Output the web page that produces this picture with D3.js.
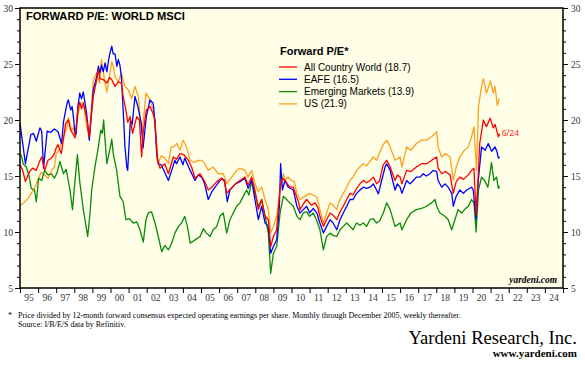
<!DOCTYPE html>
<html>
<head>
<meta charset="utf-8">
<script src="https://cdn.jsdelivr.net/npm/d3@7"></script>
<style>
body { margin: 0; background: #fff; }
svg { display: block; }
.axis text { font-family: "Liberation Serif", "Times New Roman", serif; font-size: 9.5px; fill: #333; }
.axis path, .axis line { stroke: #000; }
</style>
</head>
<body>
<div class="chart1"></div>
<script>
// year ticks + labels
var years = d3.range(1995, 2025);
var yTicks = [5, 10, 15, 20, 25, 30];

// [decimal year, forward P/E]
var acwi = [[1995.0,16.0],[1995.15,15.5],[1995.3,14.5],[1995.53,15.4],[1995.7,15.7],[1995.9,15.5],[1996.08,16.3],[1996.2,16.7],[1996.36,15.5],[1996.55,16.4],[1996.73,16.6],[1996.9,17.0],[1997.0,17.5],[1997.1,17.8],[1997.28,17.0],[1997.43,18.6],[1997.52,19.7],[1997.67,20.0],[1997.8,19.1],[1997.95,18.7],[1998.04,18.4],[1998.2,20.9],[1998.3,21.6],[1998.4,21.0],[1998.5,21.5],[1998.68,20.2],[1998.83,18.5],[1998.95,20.5],[1999.05,22.1],[1999.24,23.6],[1999.33,24.5],[1999.42,23.7],[1999.6,23.6],[1999.8,23.3],[1999.95,23.8],[2000.07,23.6],[2000.25,23.0],[2000.43,23.4],[2000.6,23.3],[2000.7,22.1],[2000.85,20.9],[2000.95,19.8],[2001.08,20.3],[2001.22,18.8],[2001.45,20.3],[2001.6,20.0],[2001.72,16.7],[2001.8,18.8],[2001.98,20.9],[2002.18,21.2],[2002.32,20.7],[2002.46,20.0],[2002.59,16.4],[2002.73,15.7],[2003.0,16.1],[2003.2,15.2],[2003.47,16.7],[2003.65,16.5],[2003.84,17.0],[2004.05,16.9],[2004.3,16.4],[2004.48,15.8],[2004.67,14.8],[2004.95,15.2],[2005.2,14.5],[2005.4,13.75],[2005.6,14.0],[2005.87,14.5],[2006.14,14.8],[2006.3,14.5],[2006.42,13.45],[2006.6,13.8],[2006.9,14.3],[2007.15,14.6],[2007.43,14.9],[2007.6,14.2],[2007.8,14.9],[2007.98,13.75],[2008.17,12.0],[2008.35,12.9],[2008.54,11.4],[2008.72,11.1],[2008.85,8.7],[2009.0,9.6],[2009.18,10.2],[2009.37,14.0],[2009.5,14.8],[2009.64,14.6],[2009.9,14.0],[2010.1,14.0],[2010.4,12.6],[2010.47,12.0],[2010.65,12.5],[2010.84,12.9],[2011.1,12.4],[2011.3,12.6],[2011.45,12.2],[2011.57,11.4],[2011.76,10.5],[2011.94,11.1],[2012.13,11.7],[2012.3,11.5],[2012.5,11.1],[2012.68,11.8],[2012.86,12.3],[2013.05,12.9],[2013.23,13.45],[2013.4,13.3],[2013.6,13.9],[2013.78,14.3],[2013.97,14.6],[2014.15,14.4],[2014.34,14.6],[2014.52,14.9],[2014.7,14.3],[2014.85,14.5],[2015.07,16.0],[2015.26,16.4],[2015.45,15.8],[2015.72,14.6],[2015.85,15.1],[2016.0,14.9],[2016.1,14.3],[2016.36,15.5],[2016.6,15.4],[2016.9,15.8],[2017.18,16.1],[2017.46,16.1],[2017.74,16.4],[2018.02,16.7],[2018.1,15.7],[2018.3,15.2],[2018.5,15.4],[2018.76,15.1],[2018.94,13.45],[2019.1,14.5],[2019.3,14.9],[2019.5,14.7],[2019.77,15.1],[2019.95,15.5],[2020.08,15.7],[2020.2,11.5],[2020.3,14.5],[2020.4,17.9],[2020.6,20.0],[2020.77,19.4],[2020.97,20.15],[2021.15,19.3],[2021.25,19.6],[2021.43,18.5],[2021.5,18.8]];

var eafe = [[1995.0,19.7],[1995.3,16.1],[1995.6,18.7],[1995.75,18.8],[1995.9,18.1],[1996.1,19.3],[1996.2,19.0],[1996.3,15.7],[1996.5,19.0],[1996.7,18.9],[1996.9,19.2],[1997.1,18.95],[1997.3,17.9],[1997.4,19.8],[1997.6,21.5],[1997.67,21.8],[1997.8,20.9],[1997.88,21.2],[1997.95,20.3],[1998.04,18.8],[1998.1,18.7],[1998.2,21.2],[1998.3,22.4],[1998.4,21.9],[1998.5,22.5],[1998.68,20.6],[1998.83,18.2],[1998.96,20.9],[1999.05,22.7],[1999.24,23.9],[1999.33,24.8],[1999.42,24.2],[1999.5,24.9],[1999.6,24.3],[1999.7,25.1],[1999.8,24.3],[1999.88,25.2],[1999.97,26.0],[2000.07,26.6],[2000.15,25.9],[2000.25,25.9],[2000.35,24.8],[2000.43,25.4],[2000.52,24.9],[2000.6,23.9],[2000.7,20.9],[2000.8,17.6],[2000.9,15.8],[2000.95,15.5],[2001.1,20.0],[2001.2,19.6],[2001.35,22.1],[2001.5,21.3],[2001.7,19.7],[2001.8,17.5],[2001.98,20.3],[2002.18,21.8],[2002.36,21.5],[2002.45,20.0],[2002.55,17.0],[2002.64,16.1],[2002.8,16.0],[2003.2,14.6],[2003.4,15.6],[2003.56,16.4],[2003.65,16.1],[2003.84,16.7],[2004.0,16.0],[2004.1,16.6],[2004.4,15.5],[2004.67,14.6],[2004.85,15.1],[2005.04,14.9],[2005.2,14.3],[2005.4,12.9],[2005.6,13.6],[2005.87,14.2],[2006.14,14.8],[2006.3,14.6],[2006.45,12.7],[2006.6,13.75],[2006.9,14.3],[2007.15,14.5],[2007.43,14.8],[2007.6,13.9],[2007.8,14.6],[2007.98,12.9],[2008.17,11.1],[2008.35,12.3],[2008.54,10.8],[2008.72,10.5],[2008.85,8.1],[2009.0,8.7],[2009.18,9.3],[2009.33,12.3],[2009.4,16.1],[2009.5,13.75],[2009.64,14.6],[2009.82,14.0],[2010.1,13.75],[2010.3,12.3],[2010.47,11.7],[2010.65,12.0],[2010.84,12.3],[2011.0,11.7],[2011.2,12.1],[2011.4,11.7],[2011.57,10.8],[2011.76,9.9],[2011.94,10.5],[2012.13,11.1],[2012.3,10.8],[2012.5,10.2],[2012.68,11.1],[2012.86,11.7],[2013.05,12.3],[2013.23,12.9],[2013.4,12.9],[2013.6,13.45],[2013.78,13.75],[2013.97,14.0],[2014.15,13.9],[2014.34,14.0],[2014.52,14.3],[2014.7,13.75],[2014.8,13.4],[2014.98,14.6],[2015.17,15.8],[2015.26,16.1],[2015.45,15.5],[2015.72,13.75],[2015.85,14.3],[2016.0,14.0],[2016.1,13.45],[2016.36,14.6],[2016.55,14.3],[2016.73,14.6],[2016.9,14.9],[2017.1,14.9],[2017.28,15.2],[2017.45,15.0],[2017.65,15.2],[2017.83,15.5],[2018.02,15.4],[2018.1,14.6],[2018.3,14.0],[2018.48,14.3],[2018.66,14.0],[2018.85,13.45],[2018.94,12.3],[2019.1,13.2],[2019.3,13.75],[2019.5,13.45],[2019.68,13.75],[2019.95,14.0],[2020.04,13.75],[2020.2,11.1],[2020.32,14.6],[2020.5,17.6],[2020.7,17.3],[2020.87,17.9],[2021.06,17.2],[2021.24,17.6],[2021.35,17.2],[2021.43,16.6],[2021.5,16.7]];

var em = [[1995.0,17.0],[1995.1,16.7],[1995.17,16.1],[1995.35,15.8],[1995.5,15.0],[1995.62,13.9],[1995.8,13.75],[1995.9,12.7],[1996.03,14.8],[1996.2,14.6],[1996.36,15.5],[1996.55,15.1],[1996.73,15.2],[1996.9,14.8],[1997.05,15.3],[1997.2,16.3],[1997.4,15.2],[1997.55,15.6],[1997.76,13.75],[1997.9,12.0],[1998.0,13.9],[1998.17,16.9],[1998.3,14.5],[1998.5,12.0],[1998.74,9.6],[1998.87,11.7],[1998.96,13.75],[1999.14,15.8],[1999.33,17.6],[1999.46,19.1],[1999.55,18.8],[1999.62,20.0],[1999.7,18.2],[1999.8,16.1],[1999.97,17.4],[2000.07,18.3],[2000.15,17.0],[2000.34,15.5],[2000.52,13.2],[2000.7,12.7],[2000.85,11.1],[2001.04,11.2],[2001.26,10.8],[2001.45,10.9],[2001.63,10.2],[2001.81,9.1],[2001.96,11.1],[2002.09,11.7],[2002.27,11.8],[2002.46,10.8],[2002.64,9.6],[2002.83,8.25],[2003.0,8.8],[2003.2,8.4],[2003.38,9.0],[2003.56,9.9],[2003.75,10.5],[2003.93,10.8],[2004.1,11.4],[2004.25,10.5],[2004.4,9.0],[2004.67,9.3],[2004.95,9.6],[2005.13,10.3],[2005.3,9.9],[2005.5,9.6],[2005.67,10.2],[2005.87,10.5],[2006.05,11.4],[2006.23,11.7],[2006.42,9.9],[2006.6,11.1],[2006.78,11.7],[2006.97,12.3],[2007.15,12.6],[2007.34,13.2],[2007.52,13.75],[2007.65,13.3],[2007.8,14.6],[2007.98,13.45],[2008.17,12.3],[2008.35,12.9],[2008.54,11.4],[2008.72,9.9],[2008.85,6.3],[2009.0,8.1],[2009.18,8.7],[2009.37,11.7],[2009.55,13.2],[2009.73,12.9],[2009.9,12.6],[2010.1,12.3],[2010.3,11.4],[2010.47,11.1],[2010.65,11.7],[2010.84,11.8],[2011.0,11.4],[2011.2,11.7],[2011.38,11.1],[2011.57,10.2],[2011.76,8.4],[2011.94,9.6],[2012.13,9.9],[2012.3,9.7],[2012.5,9.6],[2012.68,10.2],[2012.86,10.5],[2013.05,10.8],[2013.23,10.5],[2013.4,10.2],[2013.6,10.8],[2013.78,10.6],[2013.97,10.8],[2014.15,10.5],[2014.34,11.1],[2014.52,11.2],[2014.7,10.8],[2014.88,11.0],[2015.07,11.7],[2015.26,12.6],[2015.45,12.0],[2015.72,10.5],[2016.0,10.8],[2016.1,10.2],[2016.36,11.1],[2016.6,11.7],[2016.9,12.0],[2017.18,12.1],[2017.46,12.3],[2017.74,12.6],[2017.93,12.9],[2018.02,12.3],[2018.2,11.7],[2018.48,11.4],[2018.66,11.1],[2018.85,10.2],[2019.03,11.1],[2019.2,12.0],[2019.4,11.7],[2019.56,12.0],[2019.77,12.3],[2019.95,12.9],[2020.08,12.6],[2020.2,10.0],[2020.33,13.75],[2020.5,14.9],[2020.67,14.6],[2020.85,14.0],[2021.05,16.2],[2021.18,14.6],[2021.33,14.9],[2021.43,13.9],[2021.5,14.1]];

var us = [[1995.0,12.3],[1995.45,13.0],[1995.8,13.9],[1996.03,14.8],[1996.15,15.3],[1996.36,15.1],[1996.55,14.8],[1996.75,15.5],[1996.9,15.8],[1997.0,17.0],[1997.15,17.3],[1997.3,18.0],[1997.47,18.8],[1997.6,19.4],[1997.67,20.2],[1997.85,19.1],[1997.95,19.3],[1998.04,18.7],[1998.2,20.3],[1998.3,21.2],[1998.42,21.5],[1998.5,21.6],[1998.68,19.4],[1998.83,18.4],[1998.96,21.5],[1999.05,23.6],[1999.24,24.2],[1999.4,23.3],[1999.5,25.4],[1999.7,23.3],[1999.8,22.5],[1999.97,24.2],[2000.07,25.2],[2000.15,24.8],[2000.25,23.9],[2000.43,23.4],[2000.6,24.2],[2000.8,23.0],[2000.98,22.7],[2001.17,21.9],[2001.35,23.0],[2001.54,22.1],[2001.63,20.3],[2001.75,18.8],[2001.96,22.4],[2002.18,21.8],[2002.36,20.9],[2002.55,17.9],[2002.64,16.1],[2002.8,16.8],[2003.0,16.6],[2003.2,16.1],[2003.35,17.6],[2003.5,17.6],[2003.66,17.9],[2003.84,17.3],[2004.02,18.2],[2004.2,17.6],[2004.4,16.4],[2004.6,16.2],[2004.85,16.4],[2005.04,16.4],[2005.2,16.1],[2005.4,15.5],[2005.67,15.8],[2005.95,15.2],[2006.23,15.2],[2006.42,14.3],[2006.7,14.9],[2006.97,15.5],[2007.15,15.7],[2007.43,15.5],[2007.6,14.9],[2007.8,15.5],[2007.98,14.3],[2008.17,13.6],[2008.35,14.0],[2008.54,12.9],[2008.72,12.0],[2008.85,9.9],[2009.0,10.5],[2009.18,11.4],[2009.37,13.75],[2009.55,15.2],[2009.64,14.6],[2009.82,14.9],[2010.0,14.6],[2010.15,14.5],[2010.3,13.45],[2010.47,12.9],[2010.75,13.2],[2011.0,13.45],[2011.2,13.3],[2011.4,13.1],[2011.57,12.0],[2011.76,10.8],[2011.94,11.7],[2012.13,12.6],[2012.3,12.4],[2012.5,12.0],[2012.68,12.9],[2012.86,13.45],[2013.05,14.0],[2013.23,14.6],[2013.4,14.9],[2013.6,15.5],[2013.78,15.8],[2013.97,16.1],[2014.15,15.9],[2014.34,16.3],[2014.52,16.7],[2014.7,16.4],[2014.9,17.2],[2015.07,17.8],[2015.26,18.2],[2015.45,17.6],[2015.72,16.4],[2016.0,16.7],[2016.1,15.8],[2016.36,17.6],[2016.6,17.3],[2016.9,17.9],[2017.18,18.2],[2017.46,18.2],[2017.74,18.5],[2017.93,18.8],[2018.02,18.95],[2018.1,17.6],[2018.3,16.7],[2018.5,17.0],[2018.76,16.7],[2018.94,14.6],[2019.1,15.8],[2019.3,16.7],[2019.56,17.3],[2019.77,17.6],[2019.95,18.5],[2020.08,19.4],[2020.22,15.5],[2020.33,21.2],[2020.5,23.0],[2020.6,23.7],[2020.77,22.4],[2020.9,23.0],[2020.99,23.5],[2021.15,22.4],[2021.24,23.0],[2021.37,21.3],[2021.48,21.9]];

var legendNames = ["All Country World (18.7)", "EAFE (16.5)", "Emerging Markets (13.9)", "US (21.9)"];
var colors = ["#ff0000", "#0000ff", "#0a8a0a", "#ffa020"];

var W = 585, H = 367;
var margin = {top: 8, right: 22, bottom: 79, left: 20};
var width = W - margin.left - margin.right,
    height = H - margin.top - margin.bottom;

var x = d3.scaleLinear().domain([1995, 2025]).range([0, width]);
var y = d3.scaleLinear().domain([5, 30]).range([height, 0]);

var svg = d3.select(".chart1").append("svg")
    .attr("width", W).attr("height", H);
var g = svg.append("g")
    .attr("transform", "translate(" + margin.left + "," + margin.top + ")");

g.append("rect")
    .attr("width", width).attr("height", height)
    .attr("fill", "#fffee6");

// lines
var line = d3.line().x(function(d){ return x(d[0]); }).y(function(d){ return y(d[1]); });
var series = [us, em, eafe, acwi];
var sColors = [colors[3], colors[2], colors[1], colors[0]];
series.forEach(function(s, i){
    g.append("path").datum(s)
        .attr("fill", "none")
        .attr("stroke", sColors[i])
        .attr("stroke-width", 1.3)
        .attr("stroke-linejoin", "round")
        .attr("d", line);
});

// axes - minor ticks
g.append("g").attr("class", "axis")
    .call(d3.axisLeft(y).tickValues(d3.range(5, 31)).tickSize(3).tickFormat(""))
    .select(".domain").remove();
g.append("g").attr("class", "axis")
    .call(d3.axisLeft(y).tickValues(yTicks).tickSize(5).tickPadding(2))
    .select(".domain").remove();
g.append("g").attr("class", "axis")
    .attr("transform", "translate(" + width + ",0)")
    .call(d3.axisRight(y).tickValues(d3.range(5, 31)).tickSize(3).tickFormat(""))
    .select(".domain").remove();
g.append("g").attr("class", "axis")
    .attr("transform", "translate(" + width + ",0)")
    .call(d3.axisRight(y).tickValues(yTicks).tickSize(5).tickPadding(3))
    .select(".domain").remove();
g.append("g").attr("class", "axis")
    .attr("transform", "translate(0," + height + ")")
    .call(d3.axisBottom(x).tickValues(d3.range(1995, 2026)).tickSize(5).tickFormat(""))
    .select(".domain").remove();
// year labels between ticks
g.append("g").attr("class", "axis")
    .selectAll("text")
    .data(years)
    .enter()
    .append("text")
    .attr("x", function(d){ return x(d + 0.5); })
    .attr("y", height + 13)
    .style("text-anchor", "middle")
    .text(function(d){ return String(d).slice(2); });

g.append("rect")
    .attr("width", width).attr("height", height)
    .attr("fill", "none").attr("stroke", "#000").attr("stroke-width", 1.5);

// title
g.append("text")
    .attr("x", 6).attr("y", 11.5)
    .style("font-family", "Liberation Sans, Arial, sans-serif")
    .style("font-weight", "bold").style("font-size", "11.2px")
    .text("FORWARD P/E: WORLD MSCI");

// legend
var leg = g.append("g").attr("transform", "translate(259,0)");
leg.append("text")
    .attr("x", 1).attr("y", 47)
    .style("font-family", "Liberation Sans, Arial, sans-serif")
    .style("font-weight", "bold").style("font-size", "11px")
    .text("Forward P/E*");
legendNames.forEach(function(n, i){
    var yy = 59 + i * 12.3;
    leg.append("line").attr("x1", 0).attr("x2", 18).attr("y1", yy).attr("y2", yy)
        .attr("stroke", colors[i]).attr("stroke-width", 1.3);
    leg.append("text").attr("x", 25).attr("y", yy + 3.5)
        .style("font-family", "Liberation Sans, Arial, sans-serif")
        .style("font-size", "10px")
        .text(n);
});

// last date label
g.append("text")
    .attr("x", x(2021.5) + 2).attr("y", y(acwi[acwi.length - 1][1]) + 3)
    .style("font-family", "Liberation Sans, Arial, sans-serif")
    .style("font-size", "9px").style("fill", "#ff3030")
    .text("6/24");

g.append("text")
    .attr("x", width - 6).attr("y", height - 5)
    .style("font-family", "Liberation Serif, serif")
    .style("font-weight", "bold").style("font-style", "italic").style("font-size", "9.4px")
    .style("text-anchor", "end")
    .text("yardeni.com");

// footnotes
var foot = svg.append("g").style("font-family", "Liberation Serif, serif").style("font-size", "8px");
foot.append("text").attr("x", 8).attr("y", 318).text("*");
foot.append("text").attr("x", 18).attr("y", 318)
    .text("Price divided by 12-month forward consensus expected operating earnings per share. Monthly through December 2005, weekly thereafter.");
foot.append("text").attr("x", 18).attr("y", 327).text("Source: I/B/E/S data by Refinitiv.");

svg.append("text")
    .attr("x", 577).attr("y", 344)
    .style("font-family", "Liberation Serif, serif").style("font-size", "18.6px")
    .style("text-anchor", "end")
    .text("Yardeni Research, Inc.");
svg.append("text")
    .attr("x", 577).attr("y", 357)
    .style("font-family", "Liberation Serif, serif").style("font-size", "11px")
    .style("font-weight", "bold")
    .style("text-anchor", "end")
    .text("www.yardeni.com");
</script>
</body>
</html>
